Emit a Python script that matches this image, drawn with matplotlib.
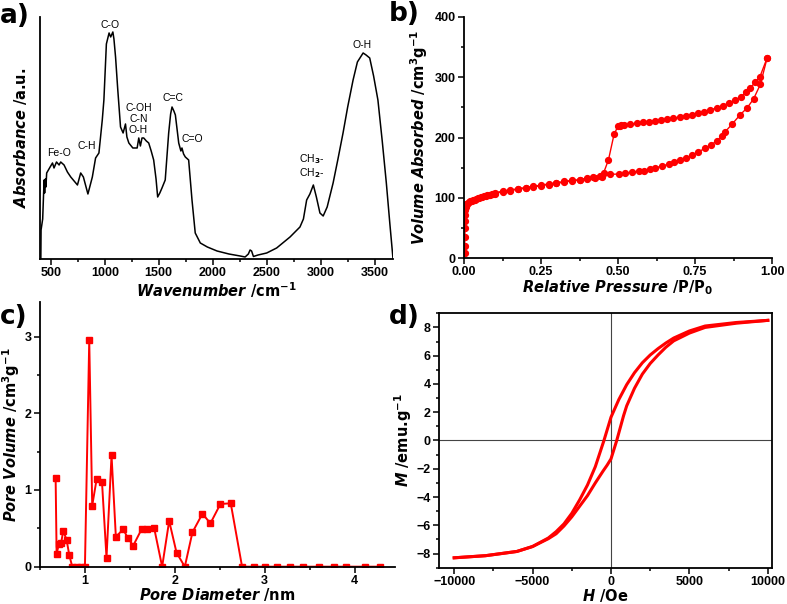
import numpy as np
import matplotlib
matplotlib.use('Agg')
import matplotlib.pyplot as plt
from matplotlib.ticker import MultipleLocator, FormatStrFormatter

# a) FTIR spectrum
wavenumber = [408, 410, 425, 438, 443, 450, 455, 462, 494, 516, 530, 553, 577, 592, 623, 654, 685,
              747, 777, 802, 844, 885, 915, 946, 977, 992, 1015, 1040, 1055, 1075, 1085, 1100, 1120,
              1146, 1170, 1192, 1205, 1223, 1260, 1300, 1315, 1330, 1345, 1361, 1385, 1407, 1430,
              1453, 1475, 1490, 1510, 1530, 1560, 1592, 1610, 1623, 1640, 1654, 1685, 1705, 1715,
              1730, 1746, 1777, 1808, 1838, 1885, 1950, 2040, 2150, 2254, 2300, 2330, 2346, 2360,
              2377, 2420, 2500, 2592, 2716, 2808, 2840, 2870, 2900, 2932, 2960, 2993, 3023, 3060,
              3115, 3160, 3207, 3250, 3300, 3340, 3393, 3420, 3454, 3490, 3530, 3570, 3608, 3640, 3670]
absorbance = [0, 29, 40, 79, 66, 80, 72, 86, 92, 96, 91, 97, 94, 97, 94, 87, 82,
              74, 86, 82, 65, 82, 101, 106, 139, 159, 215, 226, 222, 227, 220, 202, 170,
              132, 126, 135, 122, 116, 111, 111, 121, 113, 121, 121, 118, 116, 108,
              99, 80, 62, 66, 71, 79, 126, 145, 152, 148, 144, 116, 108, 111,
              105, 102, 99, 59, 26, 16, 12, 8, 5, 3, 2, 5, 9, 8,
              2.5, 4, 6, 11, 22, 32, 40, 59, 65, 74, 62, 46, 43, 52,
              76, 100, 126, 152, 179, 197, 206, 204, 201, 183, 159, 118, 76, 36, 0]

# b) N2 isotherm
p_ads = [0.002, 0.002, 0.003, 0.003, 0.003, 0.004, 0.004, 0.005, 0.006, 0.008, 0.010, 0.013,
         0.016, 0.020, 0.025, 0.030, 0.035, 0.040, 0.045, 0.050, 0.055, 0.060, 0.065, 0.070,
         0.075, 0.080, 0.085, 0.090, 0.095, 0.100, 0.125, 0.150, 0.175, 0.200, 0.225, 0.250,
         0.275, 0.300, 0.325, 0.350, 0.375, 0.400, 0.425, 0.448, 0.475, 0.502, 0.523, 0.545,
         0.567, 0.583, 0.604, 0.621, 0.642, 0.664, 0.682, 0.702, 0.721, 0.740, 0.761, 0.783,
         0.802, 0.821, 0.837, 0.848, 0.870, 0.897, 0.919, 0.940, 0.962, 0.984]
v_ads = [8, 20, 35, 50, 62, 72, 80, 85, 87, 89, 90, 92,
         93, 94, 95, 96, 97, 98, 99, 100, 101, 102, 102.5, 103,
         104, 104.5, 105, 105.5, 106, 107, 110, 112, 114, 116, 118, 120,
         122, 124, 126, 128, 129, 131, 133, 135, 138.9, 139.4, 140.5, 142.2,
         143.9, 144.9, 147.2, 149.4, 152.7, 155.5, 158.8, 162.7, 166, 170.4, 176.4, 182,
         187.5, 194.7, 202.5, 209.6, 222, 238, 249, 264, 288, 332]
p_des = [0.984, 0.960, 0.945, 0.930, 0.915, 0.900, 0.880, 0.860, 0.840, 0.820, 0.800, 0.780,
         0.760, 0.740, 0.720, 0.700, 0.680, 0.660, 0.640, 0.620, 0.600, 0.580, 0.560, 0.540,
         0.520, 0.510, 0.505, 0.500, 0.487, 0.469, 0.453, 0.440, 0.420, 0.400, 0.375, 0.350,
         0.325, 0.300, 0.275, 0.250, 0.225, 0.200, 0.175, 0.150, 0.125, 0.100]
v_des = [332, 300, 292, 282, 275, 268, 262, 257, 253, 249, 246, 243,
         240, 238, 236, 234, 232, 230, 229, 227.5, 226, 225, 223.5, 222,
         221, 220, 219.5, 219, 205, 163, 141, 136, 134, 133, 130, 129,
         127, 125, 123, 121, 119, 117, 115, 113, 111, 108]

# c) pore size distribution
pore_d = [0.674, 0.685, 0.711, 0.735, 0.759, 0.796, 0.826, 0.859, 0.907, 0.956, 1.0, 1.048, 1.081,
          1.13, 1.19, 1.24, 1.296, 1.344, 1.426, 1.474, 1.537, 1.63, 1.685, 1.77, 1.859, 1.937,
          2.019, 2.111, 2.196, 2.307, 2.396, 2.507, 2.622, 2.748, 2.878, 3.0, 3.141, 3.278, 3.426,
          3.6, 3.767, 3.907, 4.111, 4.278]
pore_v = [1.16, 0.165, 0.30, 0.31, 0.465, 0.35, 0.15, 0, 0, 0, 0, 2.95, 0.795,
          1.14, 1.10, 0.117, 1.45, 0.39, 0.487, 0.38, 0.274, 0.487, 0.496, 0.504, 0, 0.596,
          0.183, 0, 0.448, 0.69, 0.565, 0.817, 0.826, 0, 0, 0, 0, 0, 0,
          0, 0, 0, 0, 0]

# d) magnetization loop
h_down = [10000, 8000, 6000, 5000, 4000, 3500, 3000, 2500, 2000, 1500, 1000, 500, 0, -450,
          -1000, -1500, -2000, -2500, -3000, -3500, -4000, -5000, -6000, -8000, -10000]
m_down = [8.5, 8.35, 8.1, 7.75, 7.25, 6.9, 6.5, 6.05, 5.5, 4.8, 3.95, 2.9, 1.65, 0,
          -1.85, -3.15, -4.2, -5.15, -5.9, -6.45, -6.9, -7.5, -7.85, -8.15, -8.3]
h_up = [-10000, -8000, -6000, -5000, -4000, -3500, -3000, -2500, -2000, -1500, -1000, -500, -250,
        0, 365, 800, 1000, 1500, 2000, 2500, 3000, 3500, 4000, 5000, 6000, 8000, 10000]
m_up = [-8.3, -8.15, -7.85, -7.5, -6.95, -6.6, -6.05, -5.4, -4.65, -3.9, -3.0, -2.15, -1.75,
        -1.3, 0, 1.75, 2.45, 3.7, 4.7, 5.45, 6.05, 6.6, 7.05, 7.6, 8.0, 8.3, 8.5]

plt.rcParams['mathtext.fontset'] = 'custom'
plt.rcParams['mathtext.it'] = 'DejaVu Sans:italic:bold'
plt.rcParams['mathtext.rm'] = 'DejaVu Sans:bold'
plt.rcParams['mathtext.bf'] = 'DejaVu Sans:bold'

tick_font = {'family': 'Liberation Sans', 'weight': 'bold', 'size': 9}
label_font = {'family': 'DejaVu Sans', 'weight': 'bold', 'size': 10.5}
RED = '#ff0000'

fig = plt.figure(figsize=(7.87, 6.04), dpi=100)
ax_a = fig.add_axes([0.0508, 0.5712, 0.4486, 0.4007])
ax_b = fig.add_axes([0.5896, 0.5728, 0.3914, 0.3991])
ax_c = fig.add_axes([0.0508, 0.0618, 0.4512, 0.4382])
ax_d = fig.add_axes([0.5582, 0.0601, 0.4224, 0.4212])


def style(ax, open_box=True):
    for s in ax.spines.values():
        s.set_linewidth(1.3)
    if open_box:
        ax.spines['top'].set_visible(False)
        ax.spines['right'].set_visible(False)
    ax.tick_params(which='both', direction='out', width=1.1, top=False, right=False, pad=2)
    ax.tick_params(which='major', length=4)
    ax.tick_params(which='minor', length=2.5)
    for lab in ax.get_xticklabels() + ax.get_yticklabels():
        lab.set_fontfamily(tick_font['family'])
        lab.set_fontweight(tick_font['weight'])
        lab.set_fontsize(tick_font['size'])


# a)
ax_a.plot(wavenumber, absorbance, color='black', lw=1.1)
ax_a.set_xlim(400, 3670)
ax_a.set_ylim(0, 242)
ax_a.xaxis.set_major_locator(MultipleLocator(500))
ax_a.xaxis.set_minor_locator(MultipleLocator(250))
ax_a.set_yticks([])
ax_a.set_xlabel(r'$Wavenumber$ /cm$^{-1}$', labelpad=1, **label_font)
ax_a.set_ylabel(r'$Absorbance$ /a.u.', labelpad=8, **label_font)
ann = {'family': 'Liberation Sans', 'size': 7.5, 'ha': 'center', 'va': 'center'}
ax_a.text(574, 106, 'Fe-O', **ann)
ax_a.text(832, 113, 'C-H', **ann)
ax_a.text(1045, 234, 'C-O', **ann)
ax_a.text(1313, 140, 'C-OH\nC-N\nO-H', linespacing=1.1, **ann)
ax_a.text(1636, 161, 'C=C', **ann)
ax_a.text(1811, 120, 'C=O', **ann)
ax_a.text(2919, 93, 'CH$_3$-\nCH$_2$-', linespacing=1.05, **ann)
ax_a.text(3381, 214, 'O-H', **ann)
style(ax_a)

# b)
ax_b.plot(p_ads, v_ads, color=RED, lw=1, marker='o', ms=4.2, mec=RED, mfc=RED)
ax_b.plot(p_des, v_des, color=RED, lw=1, marker='o', ms=4.2, mec=RED, mfc=RED)
ax_b.set_xlim(0, 1.0)
ax_b.set_ylim(0, 400)
ax_b.xaxis.set_major_locator(MultipleLocator(0.25))
ax_b.xaxis.set_minor_locator(MultipleLocator(0.125))
ax_b.xaxis.set_major_formatter(FormatStrFormatter('%.2f'))
ax_b.yaxis.set_major_locator(MultipleLocator(100))
ax_b.yaxis.set_minor_locator(MultipleLocator(50))
ax_b.set_xlabel(r'$Relative\ Pressure$ /P/P$_0$', labelpad=0, **label_font)
ax_b.set_ylabel(r'$Volume\ Absorbed$ /cm$^3$g$^{-1}$', labelpad=3, **label_font)
style(ax_b)
ax_b.patch.set_alpha(0)

# c)
ax_c.plot(pore_d, pore_v, color=RED, lw=1.4, marker='s', ms=4, mec=RED, mfc=RED)
ax_c.set_xlim(0.5, 4.45)
ax_c.set_ylim(0, 3.45)
ax_c.xaxis.set_major_locator(MultipleLocator(1))
ax_c.xaxis.set_minor_locator(MultipleLocator(0.5))
ax_c.yaxis.set_major_locator(MultipleLocator(1))
ax_c.yaxis.set_minor_locator(MultipleLocator(0.5))
ax_c.set_xlabel(r'$Pore\ Diameter$ /nm', labelpad=-1, **label_font)
ax_c.set_ylabel(r'$Pore\ Volume$ /cm$^3$g$^{-1}$', labelpad=2, **label_font)
style(ax_c)

# d)
ax_d.axhline(0, color='#444444', lw=0.8)
ax_d.axvline(0, color='#444444', lw=0.8)
ax_d.plot(h_down, m_down, color=RED, lw=2.2)
ax_d.plot(h_up, m_up, color=RED, lw=2.2)
ax_d.set_xlim(-10950, 10250)
ax_d.set_ylim(-9, 9)
ax_d.xaxis.set_major_locator(MultipleLocator(5000))
ax_d.xaxis.set_minor_locator(MultipleLocator(2500))
ax_d.yaxis.set_major_locator(MultipleLocator(2))
ax_d.yaxis.set_minor_locator(MultipleLocator(1))
ax_d.set_xlabel(r'$H$ /Oe', labelpad=-1, **label_font)
ax_d.set_ylabel(r'$M$ /emu.g$^{-1}$', labelpad=2, **label_font)
style(ax_d, open_box=False)

for txt, x, y in [('a)', 0.0, 0.995), ('b)', 0.494, 0.998), ('c)', 0.0, 0.497), ('d)', 0.494, 0.497)]:
    fig.text(x, y, txt, family='DejaVu Sans', weight='bold', size=19, va='top', ha='left')

fig.savefig('out.png', dpi=100)
